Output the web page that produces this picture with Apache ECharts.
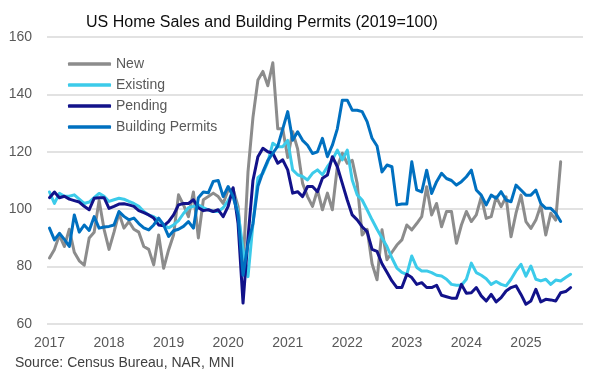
<!DOCTYPE html>
<html>
<head>
<meta charset="utf-8">
<script src="https://cdn.jsdelivr.net/npm/echarts@6/dist/echarts.min.js"></script>
<style>
html,body{margin:0;padding:0;background:#fff;}
#chart{width:598px;height:381px;}
</style>
</head>
<body>
<div id="chart"></div>
<script>
const titleText = 'US Home Sales and Building Permits (2019=100)';
const sourceText = 'Source: Census Bureau, NAR, MNI';
const years = ['2017','2018','2019','2020','2021','2022','2023','2024','2025'];
const monthCodes = ['01','02','03','04','05','06','07','08','09','10','11','12'];
const categories = [];
years.forEach(y => monthCodes.forEach(m => categories.push(y + '-' + m)));

const seriesNames = ['New', 'Existing', 'Pending', 'Building Permits'];

const newSales = [
  83, 86, 91, 87, 93, 85, 82, 80.5, 90, 92, 103, 93,
  86, 92, 98.6, 93.4, 95.7, 93, 92, 87, 86, 80.6, 91, 79.4,
  85.8, 91, 105, 101.5, 97.4, 106, 90, 103.3, 104.4, 105.6, 104.4, 102,
  106.7, 107, 101, 80, 113, 132, 145, 148, 143, 151, 128, 128,
  118, 127, 121, 109, 104.4, 101, 106.7, 99.8, 105.6, 99.8, 114.8, 119.5,
  116, 117, 109, 91, 93, 81, 75.4, 92.8, 82.4, 85, 87.5, 89.3,
  94.5, 92.8, 95, 97.4, 107.8, 98, 102, 93.9, 99.2, 99.2, 88.1, 94.5,
  99.2, 95.7, 98, 104.3, 96.8, 97.4, 104.3, 100.9, 104.3, 90.4, 98.6, 104.9,
  95.7, 93.3, 96.2, 101.4, 91, 98.6, 96.2, 116.5
];

const existingSales = [
  106, 102, 105.5, 104.5, 104.5, 105, 103.5, 102, 102.5, 104, 105.5, 104.5,
  102.7, 103.3, 103.8, 103.5, 102.7, 102, 101, 99.2, 98, 97.4, 96.3, 94.5,
  93.5, 94.5, 96, 98.5, 100.5, 101, 101.5, 100.5, 99.8, 99.2, 99.2, 100.5,
  103, 106, 99, 86, 76.5, 95, 111, 112.5, 116.5, 123, 121.8, 121.8,
  124, 113.7, 112, 111.4, 110.2, 112.5, 113.7, 112, 114.8, 117.2, 120.6, 117.2,
  120.6, 110.2, 105, 103.2, 99.8, 96.3, 93, 90, 87, 83, 79.5, 78,
  77.3, 83.7, 79.7, 78.5, 78.5, 77.9, 77, 76.7, 75.6, 73.8, 73.5, 73.5,
  75.6, 81.2, 77.9, 77, 75.8, 73.8, 74.8, 73.8, 73.3, 75.6, 78.5, 80.8,
  76.7, 80.2, 75.6, 75, 75.6, 73.8, 75.3, 75, 76.2, 77.3
];

const pendingSales = [
  104, 106, 104, 104.5, 103.5, 103, 102.5, 101, 99.8, 103.8, 104, 104,
  100.3, 101, 101.8, 101.9, 101.5, 101, 99.5, 98.8, 98, 96.9, 94.5, 94.2,
  95.7, 98, 101.5, 102, 102, 103.3, 100.5, 99.5, 99.8, 99.2, 99.8, 97.4,
  101, 107.5, 95, 67.3, 90, 110, 118.3, 121.2, 120, 119.5, 116, 117.2,
  113.7, 105.6, 106.1, 104.4, 107.9, 107.9, 106.1, 110.8, 111.9, 118.3, 114.8, 109,
  103.2, 98, 96.3, 93.9, 92.2, 86, 85.3, 81, 78, 75, 72.7, 72.7,
  77.3, 76.2, 73.8, 74.4, 72.7, 72.7, 73.5, 70, 69.5, 69, 69, 73.8,
  70.7, 70.9, 72.7, 69.8, 68, 70.3, 67.7, 69.2, 71.5, 72.7, 73.3, 70.3,
  66.9, 68, 72.1, 67.7, 68.6, 68.4, 68, 70.9, 71.3, 72.7
];

const buildingPermits = [
  93.4, 89.3, 91.6, 89.5, 87, 98, 92, 94.5, 92.6, 97.4, 93.4, 93.8,
  94, 94.5, 99.2, 97.5, 96.3, 96.9, 95, 93.5, 92.8, 94.5, 96.9, 94.5,
  90.5, 92.5, 93, 94, 95.7, 93.4, 104, 106, 105.7, 109.7, 110, 104.4,
  107.9, 104.4, 98, 77, 88, 95, 108, 113, 117, 119.5, 122, 128,
  134, 124, 127, 124, 122.3, 119.4, 120, 124.7, 118.3, 122.3, 128, 138,
  138, 134.5, 134.5, 134, 130.5, 124.7, 122, 113, 115.4, 114.8, 101.5, 101.8,
  101.8, 116.5, 106.7, 106, 113.6, 105.5, 109.6, 112.5, 110.7, 110, 108.4, 109.6,
  111.3, 113.6, 106.7, 104.9, 101.5, 104.9, 103.8, 106.1, 103.2, 102.6, 108.4, 106.7,
  104.9, 104.9, 106.7, 102, 100.3, 100.3, 98.6, 95.7
];

const yTicks = { min: 60, max: 160, step: 20 };
const colors = ['#8C8C8C', '#3CCBEA', '#12128A', '#0070C0'];
const FONT = 'Liberation Sans';

const chart = echarts.init(document.getElementById('chart'), null, { renderer: 'canvas' });

const dataSets = [newSales, existingSales, pendingSales, buildingPermits];
const series = seriesNames.map((name, k) => ({
  name: name,
  type: 'line',
  data: dataSets[k],
  symbol: 'none',
  smooth: false,
  lineStyle: { width: 3, color: colors[k], join: 'round', cap: 'round' },
  itemStyle: { color: colors[k] },
  emphasis: { disabled: true },
  z: 2 + k
}));

chart.setOption({
  animation: false,
  backgroundColor: '#ffffff',
  textStyle: { fontFamily: FONT },
  title: {
    text: titleText,
    left: 81,
    top: 10,
    textStyle: { fontFamily: FONT, fontSize: 16, fontWeight: 'normal', color: '#0d0d0d' }
  },
  graphic: [{
    type: 'text',
    left: 15,
    top: 356,
    style: { text: sourceText, fontFamily: FONT, fontSize: 14, fill: '#404040' }
  }],
  legend: {
    data: seriesNames.map((n, k) => ({ name: n, icon: 'roundRect', itemStyle: { color: colors[k] } })),
    orient: 'vertical',
    left: 63,
    top: 52,
    itemWidth: 43,
    itemHeight: 3.5,
    itemGap: 7,
    textStyle: { fontFamily: FONT, fontSize: 14, lineHeight: 14, color: '#595959' },
    selectedMode: false
  },
  grid: { left: 47, right: 15, top: 37, bottom: 57, containLabel: false },
  xAxis: {
    type: 'category',
    data: categories,
    boundaryGap: true,
    axisLine: { show: false },
    axisTick: { show: false },
    axisLabel: {
      interval: (idx) => idx % 12 === 0,
      formatter: (v) => v.slice(0, 4),
      color: '#595959',
      fontFamily: FONT,
      fontSize: 14,
      margin: 12
    },
    splitLine: { show: false }
  },
  yAxis: {
    type: 'value',
    min: yTicks.min,
    max: yTicks.max,
    interval: yTicks.step,
    axisLine: { show: false },
    axisTick: { show: false },
    axisLabel: { color: '#595959', fontFamily: FONT, fontSize: 14, margin: 15 },
    splitLine: { lineStyle: { color: '#D9D9D9', width: 1.5 } }
  },
  series: series
});
</script>
</body>
</html>
